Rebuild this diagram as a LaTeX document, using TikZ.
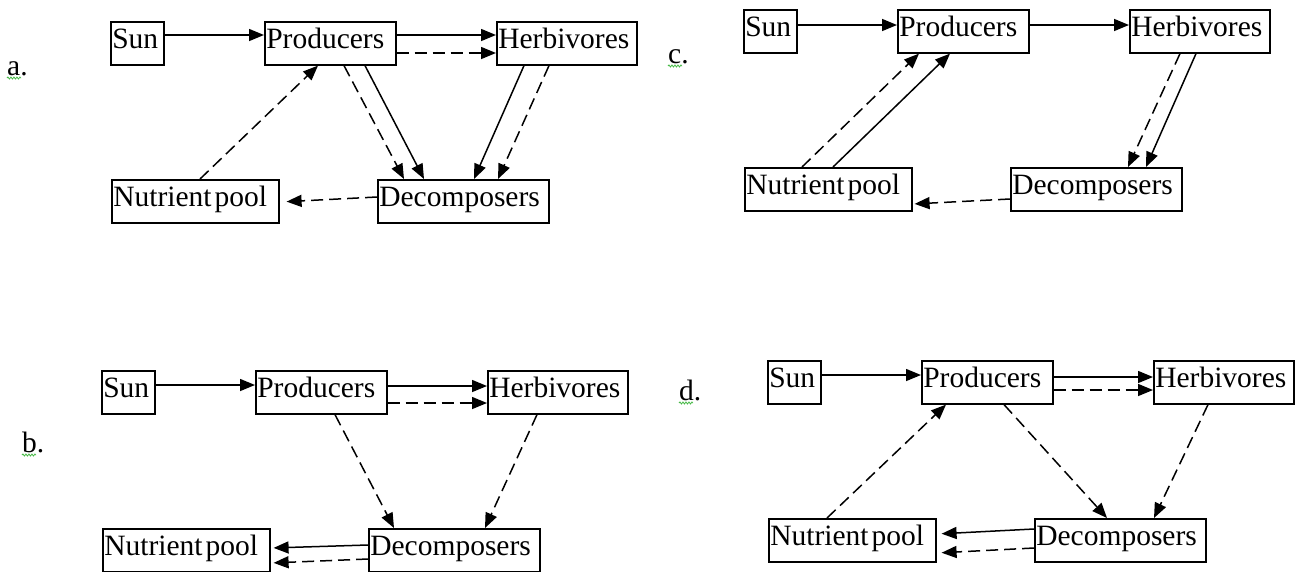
\documentclass[tikz,border=0pt]{standalone}
\usepackage{fontspec}
\setmainfont{Liberation Serif}
\usetikzlibrary{arrows.meta,decorations.pathmorphing}

\tikzset{
	box/.style={draw, line width=1.6pt, anchor=north west, inner xsep=1.5pt, inner ysep=0pt,
		text height=27pt, text depth=16pt, align=left, font=\fontsize{29.5}{34}\selectfont},
	solidflow/.style={line width=1.5pt, -{Triangle[length=15pt,width=12pt]}},
	dashflow/.style={solidflow, dash pattern=on 12pt off 6pt},
	panel/.style={anchor=base west, inner sep=0pt, font=\fontsize{29.5}{34}\selectfont},
	squiggle/.style={draw=green!45!gray, line width=0.8pt, decorate,
		decoration={snake, amplitude=1pt, segment length=3pt}}
}

\begin{document}
\begin{tikzpicture}[x=1pt, y=-1pt]
			\useasboundingbox (0,0) rectangle (1298,571);
			\foreach \p/\dx/\dy in {a/110/21, b/101/370, c/743/9, d/767/360} {
				\begin{scope}[shift={(\dx,\dy)}]
					\node[box, text width=50pt] (\p-sun) at (0,0) {Sun};
					\node[box, text width=128pt] (\p-prod) at (154,0) {Producers};
					\node[box, text width=137pt] (\p-herb) at (386,0) {Herbivores};
					\node[box, text width=164pt] (\p-nut) at (1,158) {Nutrient\hspace{3pt}pool};
					\node[box, text width=168pt] (\p-dec) at (267,158) {Decomposers};
				\end{scope}
			}
			\node[panel] (a-lab) at (7,75) {a.};
			\node[panel] (b-lab) at (22,452) {b.};
			\node[panel] (c-lab) at (668,63) {c.};
			\node[panel] (d-lab) at (679,400) {d.};
			\foreach \p in {a,b,c,d}
				\draw[squiggle] ([yshift=-3pt]\p-lab.base west) -- ++(14,0);
			% a
			\draw[solidflow] ([yshift=-14pt]a-sun.north east) -- ([yshift=-14pt]a-prod.north west);
			\draw[solidflow] ([yshift=-14pt]a-prod.north east) -- ([yshift=-14pt]a-herb.north west);
			\draw[dashflow] ([yshift=-32pt]a-prod.north east) -- ([yshift=-32pt]a-herb.north west);
			\draw[dashflow] ([xshift=80pt]a-prod.south west) -- ([xshift=27pt]a-dec.north west);
			\draw[solidflow] ([xshift=101pt]a-prod.south west) -- ([xshift=47pt]a-dec.north west);
			\draw[solidflow] ([xshift=28pt]a-herb.south west) -- ([xshift=97pt]a-dec.north west);
			\draw[dashflow] ([xshift=53pt]a-herb.south west) -- ([xshift=121pt]a-dec.north west);
			\draw[dashflow] ([xshift=89pt]a-nut.north west) -- ([xshift=54pt]a-prod.south west);
			\draw[dashflow, shorten >=7pt] ([yshift=-18pt]a-dec.north west) -- ([yshift=-23pt]a-nut.north east);
			% b
			\draw[solidflow] ([yshift=-15pt]b-sun.north east) -- ([yshift=-15pt]b-prod.north west);
			\draw[solidflow] ([yshift=-16pt]b-prod.north east) -- ([yshift=-16pt]b-herb.north west);
			\draw[dashflow] ([yshift=-33pt]b-prod.north east) -- ([yshift=-33pt]b-herb.north west);
			\draw[dashflow] ([xshift=80pt]b-prod.south west) -- ([xshift=26pt]b-dec.north west);
			\draw[dashflow] ([xshift=50pt]b-herb.south west) -- ([xshift=117pt]b-dec.north west);
			\draw[solidflow, shorten >=3pt] ([yshift=-17pt]b-dec.north west) -- ([yshift=-20pt]b-nut.north east);
			\draw[dashflow, shorten >=3pt] ([yshift=-31pt]b-dec.north west) -- ([yshift=-35pt]b-nut.north east);
			% c
			\draw[solidflow] ([yshift=-16pt]c-sun.north east) -- ([yshift=-16pt]c-prod.north west);
			\draw[solidflow] ([yshift=-16pt]c-prod.north east) -- ([yshift=-16pt]c-herb.north west);
			\draw[dashflow] ([xshift=58pt]c-nut.north west) -- ([xshift=22pt]c-prod.south west);
			\draw[solidflow] ([xshift=89pt]c-nut.north west) -- ([xshift=53pt]c-prod.south west);
			\draw[dashflow] ([xshift=51pt]c-herb.south west) -- ([xshift=118pt]c-dec.north west);
			\draw[solidflow] ([xshift=67pt]c-herb.south west) -- ([xshift=136pt]c-dec.north west);
			\draw[dashflow, shorten >=2pt] ([yshift=-32pt]c-dec.north west) -- ([yshift=-37pt]c-nut.north east);
			% d
			\draw[solidflow] ([yshift=-15pt]d-sun.north east) -- ([yshift=-15pt]d-prod.north west);
			\draw[solidflow] ([yshift=-17pt]d-prod.north east) -- ([yshift=-17pt]d-herb.north west);
			\draw[dashflow] ([yshift=-30pt]d-prod.north east) -- ([yshift=-30pt]d-herb.north west);
			\draw[dashflow] ([xshift=59pt]d-nut.north west) -- ([xshift=25pt]d-prod.south west);
			\draw[dashflow] ([xshift=83pt]d-prod.south west) -- ([xshift=73pt]d-dec.north west);
			\draw[dashflow] ([xshift=55pt]d-herb.south west) -- ([xshift=120pt]d-dec.north west);
			\draw[solidflow, shorten >=5pt] ([yshift=-11pt]d-dec.north west) -- ([yshift=-16pt]d-nut.north east);
			\draw[dashflow, shorten >=5pt] ([yshift=-30pt]d-dec.north west) -- ([yshift=-35pt]d-nut.north east);
\end{tikzpicture}
\end{document}
